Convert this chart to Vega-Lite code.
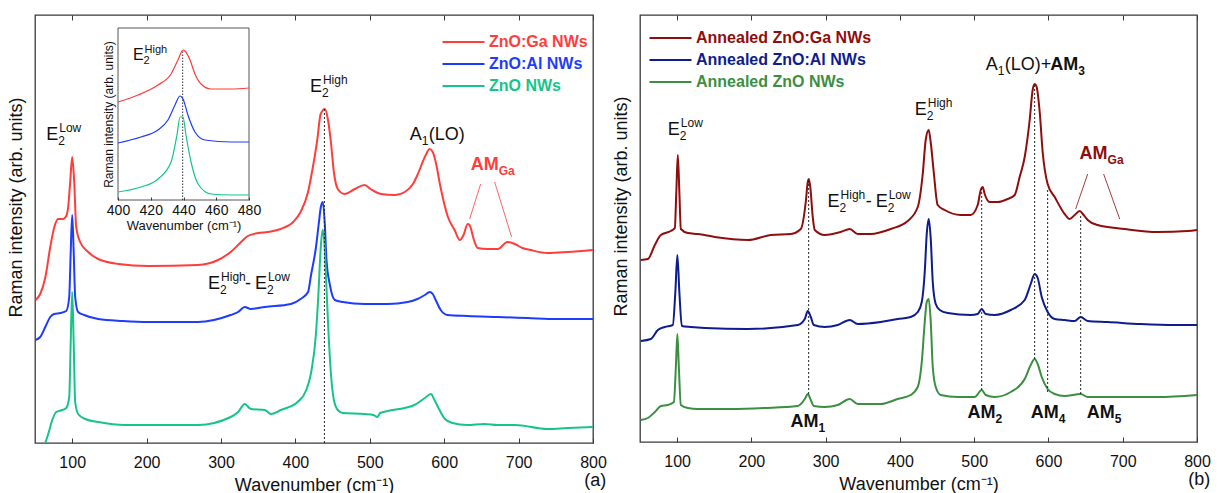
{
  "$schema": "https://vega.github.io/schema/vega-lite/v6.json",
  "padding": {"left": 6, "top": 13, "right": 0, "bottom": 0},
  "background": "white",
  "config": {
    "font": "Liberation Sans",
    "view": {"stroke": "#3a3a3a", "strokeWidth": 1.3},
    "axis": {"labelFont": "Liberation Sans", "titleFont": "Liberation Sans", "labelColor": "#111", "titleColor": "#111", "titleFontWeight": "normal", "domain": false, "grid": false, "tickColor": "#3a3a3a", "labelFlush": false},
    "text": {"font": "Liberation Sans", "color": "#111"}
  },
  "datasets": {
    "specA": [
      {"s":"ZnO:Ga NWs","x":51,"y":143},{"s":"ZnO:Ga NWs","x":57,"y":149},{"s":"ZnO:Ga NWs","x":64,"y":166},{"s":"ZnO:Ga NWs","x":70.5,"y":196},{"s":"ZnO:Ga NWs","x":76,"y":216},{"s":"ZnO:Ga NWs","x":81,"y":224},{"s":"ZnO:Ga NWs","x":88,"y":224},{"s":"ZnO:Ga NWs","x":92,"y":227},{"s":"ZnO:Ga NWs","x":94.6,"y":236},{"s":"ZnO:Ga NWs","x":97.3,"y":261},{"s":"ZnO:Ga NWs","x":100,"y":286},{"s":"ZnO:Ga NWs","x":102.7,"y":261},{"s":"ZnO:Ga NWs","x":105.4,"y":216},{"s":"ZnO:Ga NWs","x":110.7,"y":201},{"s":"ZnO:Ga NWs","x":121.5,"y":191},{"s":"ZnO:Ga NWs","x":135,"y":184},{"s":"ZnO:Ga NWs","x":162,"y":179},{"s":"ZnO:Ga NWs","x":202,"y":177},{"s":"ZnO:Ga NWs","x":269,"y":178},{"s":"ZnO:Ga NWs","x":296,"y":183},{"s":"ZnO:Ga NWs","x":313,"y":191},{"s":"ZnO:Ga NWs","x":327,"y":201},{"s":"ZnO:Ga NWs","x":336,"y":207},{"s":"ZnO:Ga NWs","x":350,"y":210},{"s":"ZnO:Ga NWs","x":363,"y":211},{"s":"ZnO:Ga NWs","x":380,"y":214},{"s":"ZnO:Ga NWs","x":397,"y":221},{"s":"ZnO:Ga NWs","x":407,"y":231},{"s":"ZnO:Ga NWs","x":417,"y":251},{"s":"ZnO:Ga NWs","x":423.5,"y":276},{"s":"ZnO:Ga NWs","x":429,"y":301},{"s":"ZnO:Ga NWs","x":434,"y":329},{"s":"ZnO:Ga NWs","x":439.6,"y":334},{"s":"ZnO:Ga NWs","x":443.6,"y":324},{"s":"ZnO:Ga NWs","x":447.7,"y":301},{"s":"ZnO:Ga NWs","x":451.7,"y":271},{"s":"ZnO:Ga NWs","x":457,"y":254},{"s":"ZnO:Ga NWs","x":466,"y":249},{"s":"ZnO:Ga NWs","x":480,"y":254},{"s":"ZnO:Ga NWs","x":493,"y":258},{"s":"ZnO:Ga NWs","x":501,"y":254},{"s":"ZnO:Ga NWs","x":515,"y":249},{"s":"ZnO:Ga NWs","x":534,"y":248},{"s":"ZnO:Ga NWs","x":547,"y":251},{"s":"ZnO:Ga NWs","x":558,"y":259},{"s":"ZnO:Ga NWs","x":564,"y":268},{"s":"ZnO:Ga NWs","x":574,"y":286},{"s":"ZnO:Ga NWs","x":580.5,"y":294},{"s":"ZnO:Ga NWs","x":584.6,"y":291},{"s":"ZnO:Ga NWs","x":588.6,"y":281},{"s":"ZnO:Ga NWs","x":595,"y":256},{"s":"ZnO:Ga NWs","x":605,"y":226},{"s":"ZnO:Ga NWs","x":614,"y":213},{"s":"ZnO:Ga NWs","x":621,"y":203},{"s":"ZnO:Ga NWs","x":626,"y":208},{"s":"ZnO:Ga NWs","x":631.5,"y":219},{"s":"ZnO:Ga NWs","x":634,"y":218},{"s":"ZnO:Ga NWs","x":640,"y":203},{"s":"ZnO:Ga NWs","x":645,"y":195},{"s":"ZnO:Ga NWs","x":658,"y":194},{"s":"ZnO:Ga NWs","x":672,"y":194},{"s":"ZnO:Ga NWs","x":685,"y":201},{"s":"ZnO:Ga NWs","x":695,"y":199},{"s":"ZnO:Ga NWs","x":705,"y":195},{"s":"ZnO:Ga NWs","x":716,"y":193},{"s":"ZnO:Ga NWs","x":739,"y":190},{"s":"ZnO:Ga NWs","x":766,"y":191},{"s":"ZnO:Ga NWs","x":800,"y":193},
      {"s":"ZnO:Al NWs","x":50.3,"y":103},{"s":"ZnO:Al NWs","x":57,"y":106},{"s":"ZnO:Al NWs","x":63.8,"y":116},{"s":"ZnO:Al NWs","x":70.5,"y":126},{"s":"ZnO:Al NWs","x":75.8,"y":129},{"s":"ZnO:Al NWs","x":84,"y":130},{"s":"ZnO:Al NWs","x":92,"y":132},{"s":"ZnO:Al NWs","x":96,"y":146},{"s":"ZnO:Al NWs","x":98,"y":191},{"s":"ZnO:Al NWs","x":100,"y":228},{"s":"ZnO:Al NWs","x":102,"y":191},{"s":"ZnO:Al NWs","x":104,"y":146},{"s":"ZnO:Al NWs","x":108,"y":131},{"s":"ZnO:Al NWs","x":116,"y":128},{"s":"ZnO:Al NWs","x":135,"y":124},{"s":"ZnO:Al NWs","x":168,"y":122},{"s":"ZnO:Al NWs","x":202,"y":121},{"s":"ZnO:Al NWs","x":269,"y":121},{"s":"ZnO:Al NWs","x":313,"y":128},{"s":"ZnO:Al NWs","x":323,"y":131},{"s":"ZnO:Al NWs","x":332,"y":136},{"s":"ZnO:Al NWs","x":340,"y":134},{"s":"ZnO:Al NWs","x":359,"y":136},{"s":"ZnO:Al NWs","x":394,"y":139},{"s":"ZnO:Al NWs","x":407,"y":144},{"s":"ZnO:Al NWs","x":417,"y":151},{"s":"ZnO:Al NWs","x":421,"y":168},{"s":"ZnO:Al NWs","x":427.5,"y":195},{"s":"ZnO:Al NWs","x":431.5,"y":220},{"s":"ZnO:Al NWs","x":434.2,"y":236},{"s":"ZnO:Al NWs","x":436.9,"y":241},{"s":"ZnO:Al NWs","x":439.6,"y":218},{"s":"ZnO:Al NWs","x":441.7,"y":184},{"s":"ZnO:Al NWs","x":446.4,"y":158},{"s":"ZnO:Al NWs","x":453,"y":143},{"s":"ZnO:Al NWs","x":463.8,"y":141},{"s":"ZnO:Al NWs","x":493,"y":139},{"s":"ZnO:Al NWs","x":524,"y":139},{"s":"ZnO:Al NWs","x":551,"y":141},{"s":"ZnO:Al NWs","x":564,"y":144},{"s":"ZnO:Al NWs","x":574,"y":148},{"s":"ZnO:Al NWs","x":580.5,"y":151},{"s":"ZnO:Al NWs","x":584.6,"y":149},{"s":"ZnO:Al NWs","x":588.6,"y":143},{"s":"ZnO:Al NWs","x":595.3,"y":133},{"s":"ZnO:Al NWs","x":604.7,"y":128},{"s":"ZnO:Al NWs","x":631.5,"y":127},{"s":"ZnO:Al NWs","x":672,"y":126},{"s":"ZnO:Al NWs","x":712,"y":125},{"s":"ZnO:Al NWs","x":752,"y":124},{"s":"ZnO:Al NWs","x":800,"y":124},
      {"s":"ZnO NWs","x":63.8,"y":0},{"s":"ZnO NWs","x":67.8,"y":9},{"s":"ZnO NWs","x":73.2,"y":23},{"s":"ZnO NWs","x":78.5,"y":31},{"s":"ZnO NWs","x":86.6,"y":33},{"s":"ZnO NWs","x":92,"y":35},{"s":"ZnO NWs","x":96,"y":46},{"s":"ZnO NWs","x":98,"y":101},{"s":"ZnO NWs","x":100,"y":151},{"s":"ZnO NWs","x":102,"y":101},{"s":"ZnO NWs","x":104,"y":41},{"s":"ZnO NWs","x":108,"y":29},{"s":"ZnO NWs","x":117.5,"y":24},{"s":"ZnO NWs","x":135,"y":21},{"s":"ZnO NWs","x":171,"y":18},{"s":"ZnO NWs","x":202,"y":18},{"s":"ZnO NWs","x":269,"y":18},{"s":"ZnO NWs","x":313,"y":26},{"s":"ZnO NWs","x":323,"y":31},{"s":"ZnO NWs","x":332,"y":39},{"s":"ZnO NWs","x":340,"y":34},{"s":"ZnO NWs","x":359,"y":33},{"s":"ZnO NWs","x":367,"y":29},{"s":"ZnO NWs","x":380.5,"y":33},{"s":"ZnO NWs","x":403,"y":41},{"s":"ZnO NWs","x":414,"y":52},{"s":"ZnO NWs","x":421,"y":70},{"s":"ZnO NWs","x":427.5,"y":108},{"s":"ZnO NWs","x":431,"y":150},{"s":"ZnO NWs","x":434,"y":195},{"s":"ZnO NWs","x":436.5,"y":213},{"s":"ZnO NWs","x":439,"y":200},{"s":"ZnO NWs","x":441.5,"y":160},{"s":"ZnO NWs","x":444.5,"y":110},{"s":"ZnO NWs","x":447.7,"y":70},{"s":"ZnO NWs","x":451.7,"y":43},{"s":"ZnO NWs","x":457,"y":33},{"s":"ZnO NWs","x":463.8,"y":30},{"s":"ZnO NWs","x":493,"y":29},{"s":"ZnO NWs","x":505,"y":28},{"s":"ZnO NWs","x":510,"y":26},{"s":"ZnO NWs","x":514,"y":30},{"s":"ZnO NWs","x":524,"y":32},{"s":"ZnO NWs","x":547,"y":35},{"s":"ZnO NWs","x":560,"y":38},{"s":"ZnO NWs","x":574,"y":45},{"s":"ZnO NWs","x":582,"y":49},{"s":"ZnO NWs","x":587,"y":43},{"s":"ZnO NWs","x":593,"y":34},{"s":"ZnO NWs","x":601,"y":24},{"s":"ZnO NWs","x":611,"y":20},{"s":"ZnO NWs","x":631,"y":18},{"s":"ZnO NWs","x":654,"y":19},{"s":"ZnO NWs","x":672,"y":18},{"s":"ZnO NWs","x":695,"y":18},{"s":"ZnO NWs","x":739,"y":14},{"s":"ZnO NWs","x":766,"y":15},{"s":"ZnO NWs","x":800,"y":16}
    ],
    "insetA": [
      {"s":"ZnO:Ga NWs","x":400,"y":98},{"s":"ZnO:Ga NWs","x":412.2,"y":105},{"s":"ZnO:Ga NWs","x":424.4,"y":115},{"s":"ZnO:Ga NWs","x":432.4,"y":126},{"s":"ZnO:Ga NWs","x":436.6,"y":140},{"s":"ZnO:Ga NWs","x":439.7,"y":150},{"s":"ZnO:Ga NWs","x":440.9,"y":149},{"s":"ZnO:Ga NWs","x":444,"y":140},{"s":"ZnO:Ga NWs","x":447,"y":126},{"s":"ZnO:Ga NWs","x":450.7,"y":116},{"s":"ZnO:Ga NWs","x":456.8,"y":111},{"s":"ZnO:Ga NWs","x":469,"y":111},{"s":"ZnO:Ga NWs","x":480,"y":112},
      {"s":"ZnO:Al NWs","x":400,"y":57},{"s":"ZnO:Al NWs","x":414,"y":63},{"s":"ZnO:Al NWs","x":424.4,"y":70},{"s":"ZnO:Al NWs","x":430.5,"y":80},{"s":"ZnO:Al NWs","x":434.8,"y":95},{"s":"ZnO:Al NWs","x":437.9,"y":104},{"s":"ZnO:Al NWs","x":439.7,"y":101},{"s":"ZnO:Al NWs","x":442.7,"y":85},{"s":"ZnO:Al NWs","x":447,"y":68},{"s":"ZnO:Al NWs","x":453.1,"y":60},{"s":"ZnO:Al NWs","x":469,"y":58},{"s":"ZnO:Al NWs","x":480,"y":58},
      {"s":"ZnO NWs","x":400,"y":8},{"s":"ZnO NWs","x":414,"y":13},{"s":"ZnO NWs","x":424.4,"y":21},{"s":"ZnO NWs","x":432.4,"y":38},{"s":"ZnO NWs","x":436,"y":65},{"s":"ZnO NWs","x":437.9,"y":83},{"s":"ZnO NWs","x":439.7,"y":83},{"s":"ZnO NWs","x":441.5,"y":65},{"s":"ZnO NWs","x":444.6,"y":38},{"s":"ZnO NWs","x":448.9,"y":16},{"s":"ZnO NWs","x":456.8,"y":6},{"s":"ZnO NWs","x":469,"y":5},{"s":"ZnO NWs","x":480,"y":5}
    ],
    "specB": [
      {"s":"Annealed ZnO:Ga NWs","x":51.1,"y":182},{"s":"Annealed ZnO:Ga NWs","x":60.6,"y":183},{"s":"Annealed ZnO:Ga NWs","x":70,"y":197},{"s":"Annealed ZnO:Ga NWs","x":78,"y":207},{"s":"Annealed ZnO:Ga NWs","x":91.5,"y":211},{"s":"Annealed ZnO:Ga NWs","x":96.9,"y":214},{"s":"Annealed ZnO:Ga NWs","x":98.9,"y":250},{"s":"Annealed ZnO:Ga NWs","x":100.9,"y":287},{"s":"Annealed ZnO:Ga NWs","x":103,"y":250},{"s":"Annealed ZnO:Ga NWs","x":105,"y":213},{"s":"Annealed ZnO:Ga NWs","x":114.4,"y":209},{"s":"Annealed ZnO:Ga NWs","x":127.9,"y":208},{"s":"Annealed ZnO:Ga NWs","x":150.7,"y":205},{"s":"Annealed ZnO:Ga NWs","x":195.2,"y":202},{"s":"Annealed ZnO:Ga NWs","x":226.1,"y":207},{"s":"Annealed ZnO:Ga NWs","x":253,"y":208},{"s":"Annealed ZnO:Ga NWs","x":266.5,"y":213},{"s":"Annealed ZnO:Ga NWs","x":273.2,"y":240},{"s":"Annealed ZnO:Ga NWs","x":275.9,"y":260},{"s":"Annealed ZnO:Ga NWs","x":277.3,"y":263},{"s":"Annealed ZnO:Ga NWs","x":279.3,"y":255},{"s":"Annealed ZnO:Ga NWs","x":282.6,"y":225},{"s":"Annealed ZnO:Ga NWs","x":285.3,"y":212},{"s":"Annealed ZnO:Ga NWs","x":298.8,"y":207},{"s":"Annealed ZnO:Ga NWs","x":320.3,"y":210},{"s":"Annealed ZnO:Ga NWs","x":332.4,"y":213},{"s":"Annealed ZnO:Ga NWs","x":343.2,"y":208},{"s":"Annealed ZnO:Ga NWs","x":360.7,"y":208},{"s":"Annealed ZnO:Ga NWs","x":387.6,"y":213},{"s":"Annealed ZnO:Ga NWs","x":410.5,"y":221},{"s":"Annealed ZnO:Ga NWs","x":424,"y":235},{"s":"Annealed ZnO:Ga NWs","x":430.7,"y":268},{"s":"Annealed ZnO:Ga NWs","x":434.7,"y":302},{"s":"Annealed ZnO:Ga NWs","x":438.7,"y":312},{"s":"Annealed ZnO:Ga NWs","x":441.4,"y":300},{"s":"Annealed ZnO:Ga NWs","x":445.5,"y":270},{"s":"Annealed ZnO:Ga NWs","x":450.8,"y":237},{"s":"Annealed ZnO:Ga NWs","x":460.3,"y":232},{"s":"Annealed ZnO:Ga NWs","x":481.8,"y":227},{"s":"Annealed ZnO:Ga NWs","x":495.3,"y":227},{"s":"Annealed ZnO:Ga NWs","x":504.7,"y":237},{"s":"Annealed ZnO:Ga NWs","x":508.8,"y":252},{"s":"Annealed ZnO:Ga NWs","x":511.5,"y":255},{"s":"Annealed ZnO:Ga NWs","x":514.1,"y":248},{"s":"Annealed ZnO:Ga NWs","x":520.9,"y":240},{"s":"Annealed ZnO:Ga NWs","x":531.6,"y":240},{"s":"Annealed ZnO:Ga NWs","x":545.1,"y":243},{"s":"Annealed ZnO:Ga NWs","x":554.5,"y":247},{"s":"Annealed ZnO:Ga NWs","x":561.2,"y":265},{"s":"Annealed ZnO:Ga NWs","x":568,"y":285},{"s":"Annealed ZnO:Ga NWs","x":574.7,"y":322},{"s":"Annealed ZnO:Ga NWs","x":578.7,"y":352},{"s":"Annealed ZnO:Ga NWs","x":581.4,"y":358},{"s":"Annealed ZnO:Ga NWs","x":584.1,"y":355},{"s":"Annealed ZnO:Ga NWs","x":588.2,"y":330},{"s":"Annealed ZnO:Ga NWs","x":592.2,"y":290},{"s":"Annealed ZnO:Ga NWs","x":598.9,"y":258},{"s":"Annealed ZnO:Ga NWs","x":608.4,"y":245},{"s":"Annealed ZnO:Ga NWs","x":621.8,"y":228},{"s":"Annealed ZnO:Ga NWs","x":628.5,"y":223},{"s":"Annealed ZnO:Ga NWs","x":635.3,"y":227},{"s":"Annealed ZnO:Ga NWs","x":642,"y":231},{"s":"Annealed ZnO:Ga NWs","x":647.4,"y":227},{"s":"Annealed ZnO:Ga NWs","x":652.8,"y":222},{"s":"Annealed ZnO:Ga NWs","x":666.2,"y":217},{"s":"Annealed ZnO:Ga NWs","x":702.6,"y":213},{"s":"Annealed ZnO:Ga NWs","x":747,"y":210},{"s":"Annealed ZnO:Ga NWs","x":787.4,"y":211},{"s":"Annealed ZnO:Ga NWs","x":800,"y":212},
      {"s":"Annealed ZnO:Al NWs","x":51.1,"y":101},{"s":"Annealed ZnO:Al NWs","x":64.6,"y":103},{"s":"Annealed ZnO:Al NWs","x":74,"y":112},{"s":"Annealed ZnO:Al NWs","x":83.4,"y":115},{"s":"Annealed ZnO:Al NWs","x":94.2,"y":117},{"s":"Annealed ZnO:Al NWs","x":97.6,"y":150},{"s":"Annealed ZnO:Al NWs","x":100.3,"y":187},{"s":"Annealed ZnO:Al NWs","x":103,"y":150},{"s":"Annealed ZnO:Al NWs","x":106.3,"y":116},{"s":"Annealed ZnO:Al NWs","x":118.4,"y":115},{"s":"Annealed ZnO:Al NWs","x":137.3,"y":114},{"s":"Annealed ZnO:Al NWs","x":195.2,"y":113},{"s":"Annealed ZnO:Al NWs","x":262.4,"y":117},{"s":"Annealed ZnO:Al NWs","x":271.9,"y":123},{"s":"Annealed ZnO:Al NWs","x":275.9,"y":131},{"s":"Annealed ZnO:Al NWs","x":280,"y":125},{"s":"Annealed ZnO:Al NWs","x":284,"y":117},{"s":"Annealed ZnO:Al NWs","x":298.8,"y":115},{"s":"Annealed ZnO:Al NWs","x":316.3,"y":117},{"s":"Annealed ZnO:Al NWs","x":332.4,"y":122},{"s":"Annealed ZnO:Al NWs","x":343.2,"y":118},{"s":"Annealed ZnO:Al NWs","x":374.1,"y":120},{"s":"Annealed ZnO:Al NWs","x":397,"y":123},{"s":"Annealed ZnO:Al NWs","x":414.5,"y":125},{"s":"Annealed ZnO:Al NWs","x":424,"y":130},{"s":"Annealed ZnO:Al NWs","x":429.4,"y":140},{"s":"Annealed ZnO:Al NWs","x":433.4,"y":170},{"s":"Annealed ZnO:Al NWs","x":436.1,"y":208},{"s":"Annealed ZnO:Al NWs","x":438.8,"y":223},{"s":"Annealed ZnO:Al NWs","x":441.5,"y":203},{"s":"Annealed ZnO:Al NWs","x":444.2,"y":160},{"s":"Annealed ZnO:Al NWs","x":448.2,"y":138},{"s":"Annealed ZnO:Al NWs","x":453.6,"y":132},{"s":"Annealed ZnO:Al NWs","x":464.4,"y":129},{"s":"Annealed ZnO:Al NWs","x":495.3,"y":127},{"s":"Annealed ZnO:Al NWs","x":504.7,"y":128},{"s":"Annealed ZnO:Al NWs","x":510.1,"y":133},{"s":"Annealed ZnO:Al NWs","x":515.5,"y":128},{"s":"Annealed ZnO:Al NWs","x":527.6,"y":127},{"s":"Annealed ZnO:Al NWs","x":549.2,"y":132},{"s":"Annealed ZnO:Al NWs","x":568,"y":142},{"s":"Annealed ZnO:Al NWs","x":576.1,"y":158},{"s":"Annealed ZnO:Al NWs","x":581.4,"y":168},{"s":"Annealed ZnO:Al NWs","x":585.5,"y":164},{"s":"Annealed ZnO:Al NWs","x":590.9,"y":145},{"s":"Annealed ZnO:Al NWs","x":598.9,"y":130},{"s":"Annealed ZnO:Al NWs","x":608.4,"y":123},{"s":"Annealed ZnO:Al NWs","x":621.8,"y":122},{"s":"Annealed ZnO:Al NWs","x":635.3,"y":121},{"s":"Annealed ZnO:Al NWs","x":643.4,"y":125},{"s":"Annealed ZnO:Al NWs","x":652.8,"y":121},{"s":"Annealed ZnO:Al NWs","x":679.7,"y":120},{"s":"Annealed ZnO:Al NWs","x":724.1,"y":118},{"s":"Annealed ZnO:Al NWs","x":769.9,"y":117},{"s":"Annealed ZnO:Al NWs","x":800,"y":117},
      {"s":"Annealed ZnO NWs","x":51.1,"y":22},{"s":"Annealed ZnO NWs","x":60.6,"y":24},{"s":"Annealed ZnO NWs","x":70,"y":30},{"s":"Annealed ZnO NWs","x":78,"y":36},{"s":"Annealed ZnO NWs","x":87.5,"y":37},{"s":"Annealed ZnO NWs","x":95.6,"y":40},{"s":"Annealed ZnO NWs","x":98.3,"y":75},{"s":"Annealed ZnO NWs","x":100.3,"y":108},{"s":"Annealed ZnO NWs","x":102.3,"y":75},{"s":"Annealed ZnO NWs","x":105,"y":37},{"s":"Annealed ZnO NWs","x":114.4,"y":34},{"s":"Annealed ZnO NWs","x":127.9,"y":33},{"s":"Annealed ZnO NWs","x":172.3,"y":33},{"s":"Annealed ZnO NWs","x":218,"y":34},{"s":"Annealed ZnO NWs","x":262.4,"y":36},{"s":"Annealed ZnO NWs","x":271.9,"y":43},{"s":"Annealed ZnO NWs","x":275.9,"y":48},{"s":"Annealed ZnO NWs","x":280,"y":42},{"s":"Annealed ZnO NWs","x":284,"y":36},{"s":"Annealed ZnO NWs","x":298.8,"y":35},{"s":"Annealed ZnO NWs","x":316.3,"y":37},{"s":"Annealed ZnO NWs","x":332.4,"y":43},{"s":"Annealed ZnO NWs","x":343.2,"y":38},{"s":"Annealed ZnO NWs","x":374.1,"y":38},{"s":"Annealed ZnO NWs","x":397,"y":43},{"s":"Annealed ZnO NWs","x":414.5,"y":47},{"s":"Annealed ZnO NWs","x":424,"y":55},{"s":"Annealed ZnO NWs","x":429.4,"y":80},{"s":"Annealed ZnO NWs","x":433.4,"y":120},{"s":"Annealed ZnO NWs","x":436.1,"y":140},{"s":"Annealed ZnO NWs","x":438.8,"y":143},{"s":"Annealed ZnO NWs","x":441.5,"y":120},{"s":"Annealed ZnO NWs","x":444.2,"y":75},{"s":"Annealed ZnO NWs","x":448.2,"y":55},{"s":"Annealed ZnO NWs","x":455,"y":47},{"s":"Annealed ZnO NWs","x":477.8,"y":45},{"s":"Annealed ZnO NWs","x":500.7,"y":45},{"s":"Annealed ZnO NWs","x":510.1,"y":52},{"s":"Annealed ZnO NWs","x":515.5,"y":47},{"s":"Annealed ZnO NWs","x":527.6,"y":45},{"s":"Annealed ZnO NWs","x":549.2,"y":50},{"s":"Annealed ZnO NWs","x":568,"y":63},{"s":"Annealed ZnO NWs","x":576.1,"y":77},{"s":"Annealed ZnO NWs","x":581.4,"y":83},{"s":"Annealed ZnO NWs","x":585.5,"y":78},{"s":"Annealed ZnO NWs","x":590.9,"y":65},{"s":"Annealed ZnO NWs","x":598.9,"y":53},{"s":"Annealed ZnO NWs","x":608.4,"y":48},{"s":"Annealed ZnO NWs","x":621.8,"y":46},{"s":"Annealed ZnO NWs","x":643.4,"y":48},{"s":"Annealed ZnO NWs","x":652.8,"y":45},{"s":"Annealed ZnO NWs","x":702.6,"y":45},{"s":"Annealed ZnO NWs","x":747,"y":45},{"s":"Annealed ZnO NWs","x":800,"y":47}
    ],
    "annA": [
      {"t":"E","x":65.1,"y":303,"sup":"Low"},
      {"t":"E","x":419.5,"y":351,"sup":"High"},
      {"t":"E","x":282.6,"y":154,"sup":"High"},
      {"t":"txt","x":332.2,"y":154,"text":"-"},
      {"t":"E","x":345.6,"y":154,"sup":"Low"},
      {"t":"A","x":553.7,"y":303,"rest":"(LO)"},
      {"t":"AM","x":635.6,"y":273,"sub":"Ga"}
    ],
    "annB": [
      {"t":"E","x":87.5,"y":307,"sup":"Low"},
      {"t":"E","x":302.6,"y":235,"sup":"High"},
      {"t":"txt","x":354.1,"y":235,"text":"-"},
      {"t":"E","x":367.3,"y":235,"sup":"Low"},
      {"t":"E","x":420,"y":327,"sup":"High"},
      {"t":"A","x":515.5,"y":372,"rest":"(LO)+"},
      {"t":"AM","x":602.3,"y":372,"sub":"3"},
      {"t":"AM","x":252.8,"y":15,"sub":"1"},
      {"t":"AM","x":491,"y":24,"sub":"2"},
      {"t":"AM","x":576,"y":24,"sub":"4"},
      {"t":"AM","x":651.4,"y":24,"sub":"5"},
      {"t":"AM","x":641.9,"y":283,"sub":"Ga"}
    ],
    "dotA": [{"x":439,"y":0,"y2":334}],
    "dotB": [{"x":277.1,"y":48,"y2":263},{"x":510.1,"y":52,"y2":255},{"x":581.4,"y":83,"y2":358},{"x":598.9,"y":50,"y2":252},{"x":643.4,"y":48,"y2":228}],
    "ptrA": [{"x":649,"y":259,"x2":634.2,"y2":224},{"x":667.8,"y":261,"x2":690.6,"y2":206}],
    "ptrB": [{"x":652.8,"y":268,"x2":636.6,"y2":233},{"x":674.3,"y":268,"x2":695.9,"y2":223}]
  },
  "hconcat": [
    {
      "width": 558,
      "height": 428,
      "title": {"text": "(a)", "orient": "bottom", "anchor": "end", "fontSize": 18, "fontWeight": "normal", "color": "#111", "offset": -22, "font": "Liberation Sans"},
      "layer": [
        {
          "layer": [
            {
              "data": {"name": "specA"},
              "mark": {"type": "line", "strokeWidth": 2, "interpolate": "monotone"},
              "encoding": {
                "x": {"field": "x", "type": "quantitative", "scale": {"domain": [50, 800], "nice": false, "zero": false},
                      "axis": {"orient": "bottom", "values": [100,200,300,400,500,600,700,800], "title": "Wavenumber (cm⁻¹)", "titleFontSize": 18, "labelFontSize": 16, "tickSize": -5, "labelPadding": 16, "titlePadding": 6}},
                "y": {"field": "y", "type": "quantitative", "scale": {"domain": [0, 428], "nice": false},
                      "axis": {"orient": "left", "title": "Raman intensity (arb. units)", "labels": false, "ticks": false, "titleFontSize": 18, "titlePadding": 10, "titleY": 192}},
                "color": {"field": "s", "type": "nominal",
                          "scale": {"domain": ["ZnO:Ga NWs", "ZnO:Al NWs", "ZnO NWs"], "range": ["#ff3d3d", "#1e3cff", "#17c488"]},
                          "legend": {"orient": "none", "legendX": 406, "legendY": 19, "title": null, "symbolType": "stroke", "symbolSize": 1764, "symbolStrokeWidth": 2.2, "labelFontSize": 16, "labelFontWeight": "bold", "labelFont": "Liberation Sans", "labelColor": {"expr": "datum.label == 'ZnO:Ga NWs' ? '#ff3d3d' : datum.label == 'ZnO:Al NWs' ? '#1e3cff' : '#17c488'"}, "clipHeight": 16, "rowPadding": 6, "labelOffset": 3, "padding": 0, "labelLimit": 300}}
              }
            },
            {
              "data": {"name": "dotA"},
              "mark": {"type": "rule", "strokeDash": [2, 2], "strokeWidth": 1, "color": "#222"},
              "encoding": {
                "x": {"field": "x", "type": "quantitative", "axis": {"orient": "top", "values": [100,200,300,400,500,600,700,800], "labels": false, "title": null, "tickSize": -5}},
                "y": {"field": "y", "type": "quantitative"},
                "y2": {"field": "y2"}
              }
            },
            {
              "data": {"name": "ptrA"},
              "mark": {"type": "rule", "strokeWidth": 0.8, "color": "#ff3d3d"},
              "encoding": {
                "x": {"field": "x", "type": "quantitative", "axis": null},
                "x2": {"field": "x2"},
                "y": {"field": "y", "type": "quantitative"},
                "y2": {"field": "y2"}
              }
            },
            {
              "data": {"name": "annA"},
              "transform": [{"filter": "datum.t == 'E'"}],
              "mark": {"type": "text", "text": "E", "fontSize": 18, "align": "left", "baseline": "alphabetic"},
              "encoding": {"x": {"field": "x", "type": "quantitative", "axis": null}, "y": {"field": "y", "type": "quantitative"}}
            },
            {
              "data": {"name": "annA"},
              "transform": [{"filter": "datum.t == 'E'"}],
              "mark": {"type": "text", "text": "2", "fontSize": 12, "align": "left", "baseline": "alphabetic", "dx": 12, "dy": 5},
              "encoding": {"x": {"field": "x", "type": "quantitative", "axis": null}, "y": {"field": "y", "type": "quantitative"}}
            },
            {
              "data": {"name": "annA"},
              "transform": [{"filter": "datum.t == 'E'"}],
              "mark": {"type": "text", "fontSize": 12, "align": "left", "baseline": "alphabetic", "dx": 13, "dy": -8},
              "encoding": {"x": {"field": "x", "type": "quantitative", "axis": null}, "y": {"field": "y", "type": "quantitative"}, "text": {"field": "sup"}}
            },
            {
              "data": {"name": "annA"},
              "transform": [{"filter": "datum.t == 'txt'"}],
              "mark": {"type": "text", "fontSize": 18, "align": "left", "baseline": "alphabetic"},
              "encoding": {"x": {"field": "x", "type": "quantitative", "axis": null}, "y": {"field": "y", "type": "quantitative"}, "text": {"field": "text"}}
            },
            {
              "data": {"name": "annA"},
              "transform": [{"filter": "datum.t == 'A'"}],
              "mark": {"type": "text", "text": "A", "fontSize": 18, "align": "left", "baseline": "alphabetic"},
              "encoding": {"x": {"field": "x", "type": "quantitative", "axis": null}, "y": {"field": "y", "type": "quantitative"}}
            },
            {
              "data": {"name": "annA"},
              "transform": [{"filter": "datum.t == 'A'"}],
              "mark": {"type": "text", "text": "1", "fontSize": 12, "align": "left", "baseline": "alphabetic", "dx": 12, "dy": 5},
              "encoding": {"x": {"field": "x", "type": "quantitative", "axis": null}, "y": {"field": "y", "type": "quantitative"}}
            },
            {
              "data": {"name": "annA"},
              "transform": [{"filter": "datum.t == 'A'"}],
              "mark": {"type": "text", "fontSize": 18, "align": "left", "baseline": "alphabetic", "dx": 19},
              "encoding": {"x": {"field": "x", "type": "quantitative", "axis": null}, "y": {"field": "y", "type": "quantitative"}, "text": {"field": "rest"}}
            },
            {
              "data": {"name": "annA"},
              "transform": [{"filter": "datum.t == 'AM'"}],
              "mark": {"type": "text", "text": "AM", "fontSize": 18, "fontWeight": "bold", "align": "left", "baseline": "alphabetic"},
              "encoding": {"x": {"field": "x", "type": "quantitative", "axis": null}, "y": {"field": "y", "type": "quantitative"},
                           "color": {"condition": {"test": "datum.sub == 'Ga'", "value": "#ff3d3d"}, "value": "#111"}}
            },
            {
              "data": {"name": "annA"},
              "transform": [{"filter": "datum.t == 'AM'"}],
              "mark": {"type": "text", "fontSize": 12, "fontWeight": "bold", "align": "left", "baseline": "alphabetic", "dx": 28, "dy": 5},
              "encoding": {"x": {"field": "x", "type": "quantitative", "axis": null}, "y": {"field": "y", "type": "quantitative"}, "text": {"field": "sub"},
                           "color": {"condition": {"test": "datum.sub == 'Ga'", "value": "#ff3d3d"}, "value": "#111"}}
            }
          ]
        },
        {
          "layer": [
            {
              "data": {"values": [{}]},
              "mark": {"type": "rect", "fill": "white", "stroke": "#555", "strokeWidth": 1},
              "encoding": {
                "x": {"datum": 400, "type": "quantitative", "scale": {"domain": [400, 480], "range": [83, 214], "nice": false, "zero": false},
                      "axis": {"orient": "bottom", "offset": -243, "zindex": 1, "values": [400,420,440,460,480], "title": "Wavenumber (cm⁻¹)", "titleFontSize": 13, "labelFontSize": 14, "tickSize": -3, "labelPadding": 6, "titlePadding": 2}},
                "x2": {"datum": 480},
                "y": {"datum": 0, "type": "quantitative", "scale": {"domain": [0, 172], "range": [185, 13], "nice": false},
                      "axis": {"orient": "left", "offset": -83, "zindex": 1, "title": "Raman intensity (arb. units)", "labels": false, "ticks": false, "titleFontSize": 12, "titlePadding": 3}},
                "y2": {"datum": 172}
              }
            },
            {
              "data": {"name": "insetA"},
              "mark": {"type": "line", "strokeWidth": 1.2, "interpolate": "monotone"},
              "encoding": {
                "x": {"field": "x", "type": "quantitative"},
                "y": {"field": "y", "type": "quantitative"},
                "color": {"field": "s", "type": "nominal", "legend": null}
              }
            },
            {
              "data": {"values": [{"x": 439.5, "y": 0, "y2": 150}]},
              "mark": {"type": "rule", "strokeDash": [1.5, 1.5], "strokeWidth": 1, "color": "#333"},
              "encoding": {
                "x": {"field": "x", "type": "quantitative"},
                "y": {"field": "y", "type": "quantitative"},
                "y2": {"field": "y2"}
              }
            },
            {
              "data": {"values": [{"x": 409.2, "y": 140, "sup": "High"}]},
              "mark": {"type": "text", "text": "E", "fontSize": 16, "align": "left", "baseline": "alphabetic"},
              "encoding": {"x": {"field": "x", "type": "quantitative"}, "y": {"field": "y", "type": "quantitative"}}
            },
            {
              "data": {"values": [{"x": 409.2, "y": 140, "sup": "High"}]},
              "mark": {"type": "text", "text": "2", "fontSize": 11, "align": "left", "baseline": "alphabetic", "dx": 10.5, "dy": 4},
              "encoding": {"x": {"field": "x", "type": "quantitative"}, "y": {"field": "y", "type": "quantitative"}}
            },
            {
              "data": {"values": [{"x": 409.2, "y": 140, "sup": "High"}]},
              "mark": {"type": "text", "fontSize": 11, "align": "left", "baseline": "alphabetic", "dx": 11.5, "dy": -7},
              "encoding": {"x": {"field": "x", "type": "quantitative"}, "y": {"field": "y", "type": "quantitative"}, "text": {"field": "sup"}}
            }
          ]
        }
      ],
      "resolve": {"scale": {"x": "independent", "y": "independent"}}
    },
    {
      "width": 557,
      "height": 427,
      "title": {"text": "(b)", "orient": "bottom", "anchor": "end", "fontSize": 18, "fontWeight": "normal", "color": "#111", "offset": -22, "font": "Liberation Sans"},
      "layer": [
        {
          "data": {"name": "specB"},
          "mark": {"type": "line", "strokeWidth": 2, "interpolate": "monotone"},
          "encoding": {
            "x": {"field": "x", "type": "quantitative", "scale": {"domain": [50, 800], "nice": false, "zero": false},
                  "axis": {"orient": "bottom", "values": [100,200,300,400,500,600,700,800], "title": "Wavenumber (cm⁻¹)", "titleFontSize": 18, "labelFontSize": 16, "tickSize": -5, "labelPadding": 16, "titlePadding": 6}},
            "y": {"field": "y", "type": "quantitative", "scale": {"domain": [0, 427], "nice": false},
                  "axis": {"orient": "left", "title": "Raman intensity (arb. units)", "labels": false, "ticks": false, "titleFontSize": 18, "titlePadding": 10, "titleY": 191}},
            "color": {"field": "s", "type": "nominal",
                      "scale": {"domain": ["Annealed ZnO:Ga NWs", "Annealed ZnO:Al NWs", "Annealed ZnO NWs"], "range": ["#8f0d0d", "#0f1d8c", "#3c8f42"]},
                      "legend": {"orient": "none", "legendX": 8, "legendY": 15, "title": null, "symbolType": "stroke", "symbolSize": 1764, "symbolStrokeWidth": 2.2, "labelFontSize": 16, "labelFontWeight": "bold", "labelFont": "Liberation Sans", "labelColor": {"expr": "datum.label == 'Annealed ZnO:Ga NWs' ? '#8f0d0d' : datum.label == 'Annealed ZnO:Al NWs' ? '#0f1d8c' : '#3c8f42'"}, "clipHeight": 16, "rowPadding": 6, "labelOffset": 3, "padding": 0, "labelLimit": 300}}
          }
        },
        {
          "data": {"name": "dotB"},
          "mark": {"type": "rule", "strokeDash": [2, 2], "strokeWidth": 1, "color": "#222"},
          "encoding": {
            "x": {"field": "x", "type": "quantitative", "axis": {"orient": "top", "values": [100,200,300,400,500,600,700,800], "labels": false, "title": null, "tickSize": -5}},
            "y": {"field": "y", "type": "quantitative"},
            "y2": {"field": "y2"}
          }
        },
        {
          "data": {"name": "ptrB"},
          "mark": {"type": "rule", "strokeWidth": 0.8, "color": "#8f0d0d"},
          "encoding": {
            "x": {"field": "x", "type": "quantitative", "axis": null},
            "x2": {"field": "x2"},
            "y": {"field": "y", "type": "quantitative"},
            "y2": {"field": "y2"}
          }
        },
        {
          "data": {"name": "annB"},
          "transform": [{"filter": "datum.t == 'E'"}],
          "mark": {"type": "text", "text": "E", "fontSize": 18, "align": "left", "baseline": "alphabetic"},
          "encoding": {"x": {"field": "x", "type": "quantitative", "axis": null}, "y": {"field": "y", "type": "quantitative"}}
        },
        {
          "data": {"name": "annB"},
          "transform": [{"filter": "datum.t == 'E'"}],
          "mark": {"type": "text", "text": "2", "fontSize": 12, "align": "left", "baseline": "alphabetic", "dx": 12, "dy": 5},
          "encoding": {"x": {"field": "x", "type": "quantitative", "axis": null}, "y": {"field": "y", "type": "quantitative"}}
        },
        {
          "data": {"name": "annB"},
          "transform": [{"filter": "datum.t == 'E'"}],
          "mark": {"type": "text", "fontSize": 12, "align": "left", "baseline": "alphabetic", "dx": 13, "dy": -8},
          "encoding": {"x": {"field": "x", "type": "quantitative", "axis": null}, "y": {"field": "y", "type": "quantitative"}, "text": {"field": "sup"}}
        },
        {
          "data": {"name": "annB"},
          "transform": [{"filter": "datum.t == 'txt'"}],
          "mark": {"type": "text", "fontSize": 18, "align": "left", "baseline": "alphabetic"},
          "encoding": {"x": {"field": "x", "type": "quantitative", "axis": null}, "y": {"field": "y", "type": "quantitative"}, "text": {"field": "text"}}
        },
        {
          "data": {"name": "annB"},
          "transform": [{"filter": "datum.t == 'A'"}],
          "mark": {"type": "text", "text": "A", "fontSize": 18, "align": "left", "baseline": "alphabetic"},
          "encoding": {"x": {"field": "x", "type": "quantitative", "axis": null}, "y": {"field": "y", "type": "quantitative"}}
        },
        {
          "data": {"name": "annB"},
          "transform": [{"filter": "datum.t == 'A'"}],
          "mark": {"type": "text", "text": "1", "fontSize": 12, "align": "left", "baseline": "alphabetic", "dx": 12, "dy": 5},
          "encoding": {"x": {"field": "x", "type": "quantitative", "axis": null}, "y": {"field": "y", "type": "quantitative"}}
        },
        {
          "data": {"name": "annB"},
          "transform": [{"filter": "datum.t == 'A'"}],
          "mark": {"type": "text", "fontSize": 18, "align": "left", "baseline": "alphabetic", "dx": 19},
          "encoding": {"x": {"field": "x", "type": "quantitative", "axis": null}, "y": {"field": "y", "type": "quantitative"}, "text": {"field": "rest"}}
        },
        {
          "data": {"name": "annB"},
          "transform": [{"filter": "datum.t == 'AM'"}],
          "mark": {"type": "text", "text": "AM", "fontSize": 18, "fontWeight": "bold", "align": "left", "baseline": "alphabetic"},
          "encoding": {"x": {"field": "x", "type": "quantitative", "axis": null}, "y": {"field": "y", "type": "quantitative"},
                       "color": {"condition": {"test": "datum.sub == 'Ga'", "value": "#8f0d0d"}, "value": "#111"}}
        },
        {
          "data": {"name": "annB"},
          "transform": [{"filter": "datum.t == 'AM'"}],
          "mark": {"type": "text", "fontSize": 12, "fontWeight": "bold", "align": "left", "baseline": "alphabetic", "dx": 28, "dy": 5},
          "encoding": {"x": {"field": "x", "type": "quantitative", "axis": null}, "y": {"field": "y", "type": "quantitative"}, "text": {"field": "sub"},
                       "color": {"condition": {"test": "datum.sub == 'Ga'", "value": "#8f0d0d"}, "value": "#111"}}
        }
      ]
    }
  ],
  "spacing": 47,
  "bounds": "flush",
  "resolve": {"scale": {"x": "independent", "y": "independent", "color": "independent"}, "legend": {"color": "independent"}}
}
